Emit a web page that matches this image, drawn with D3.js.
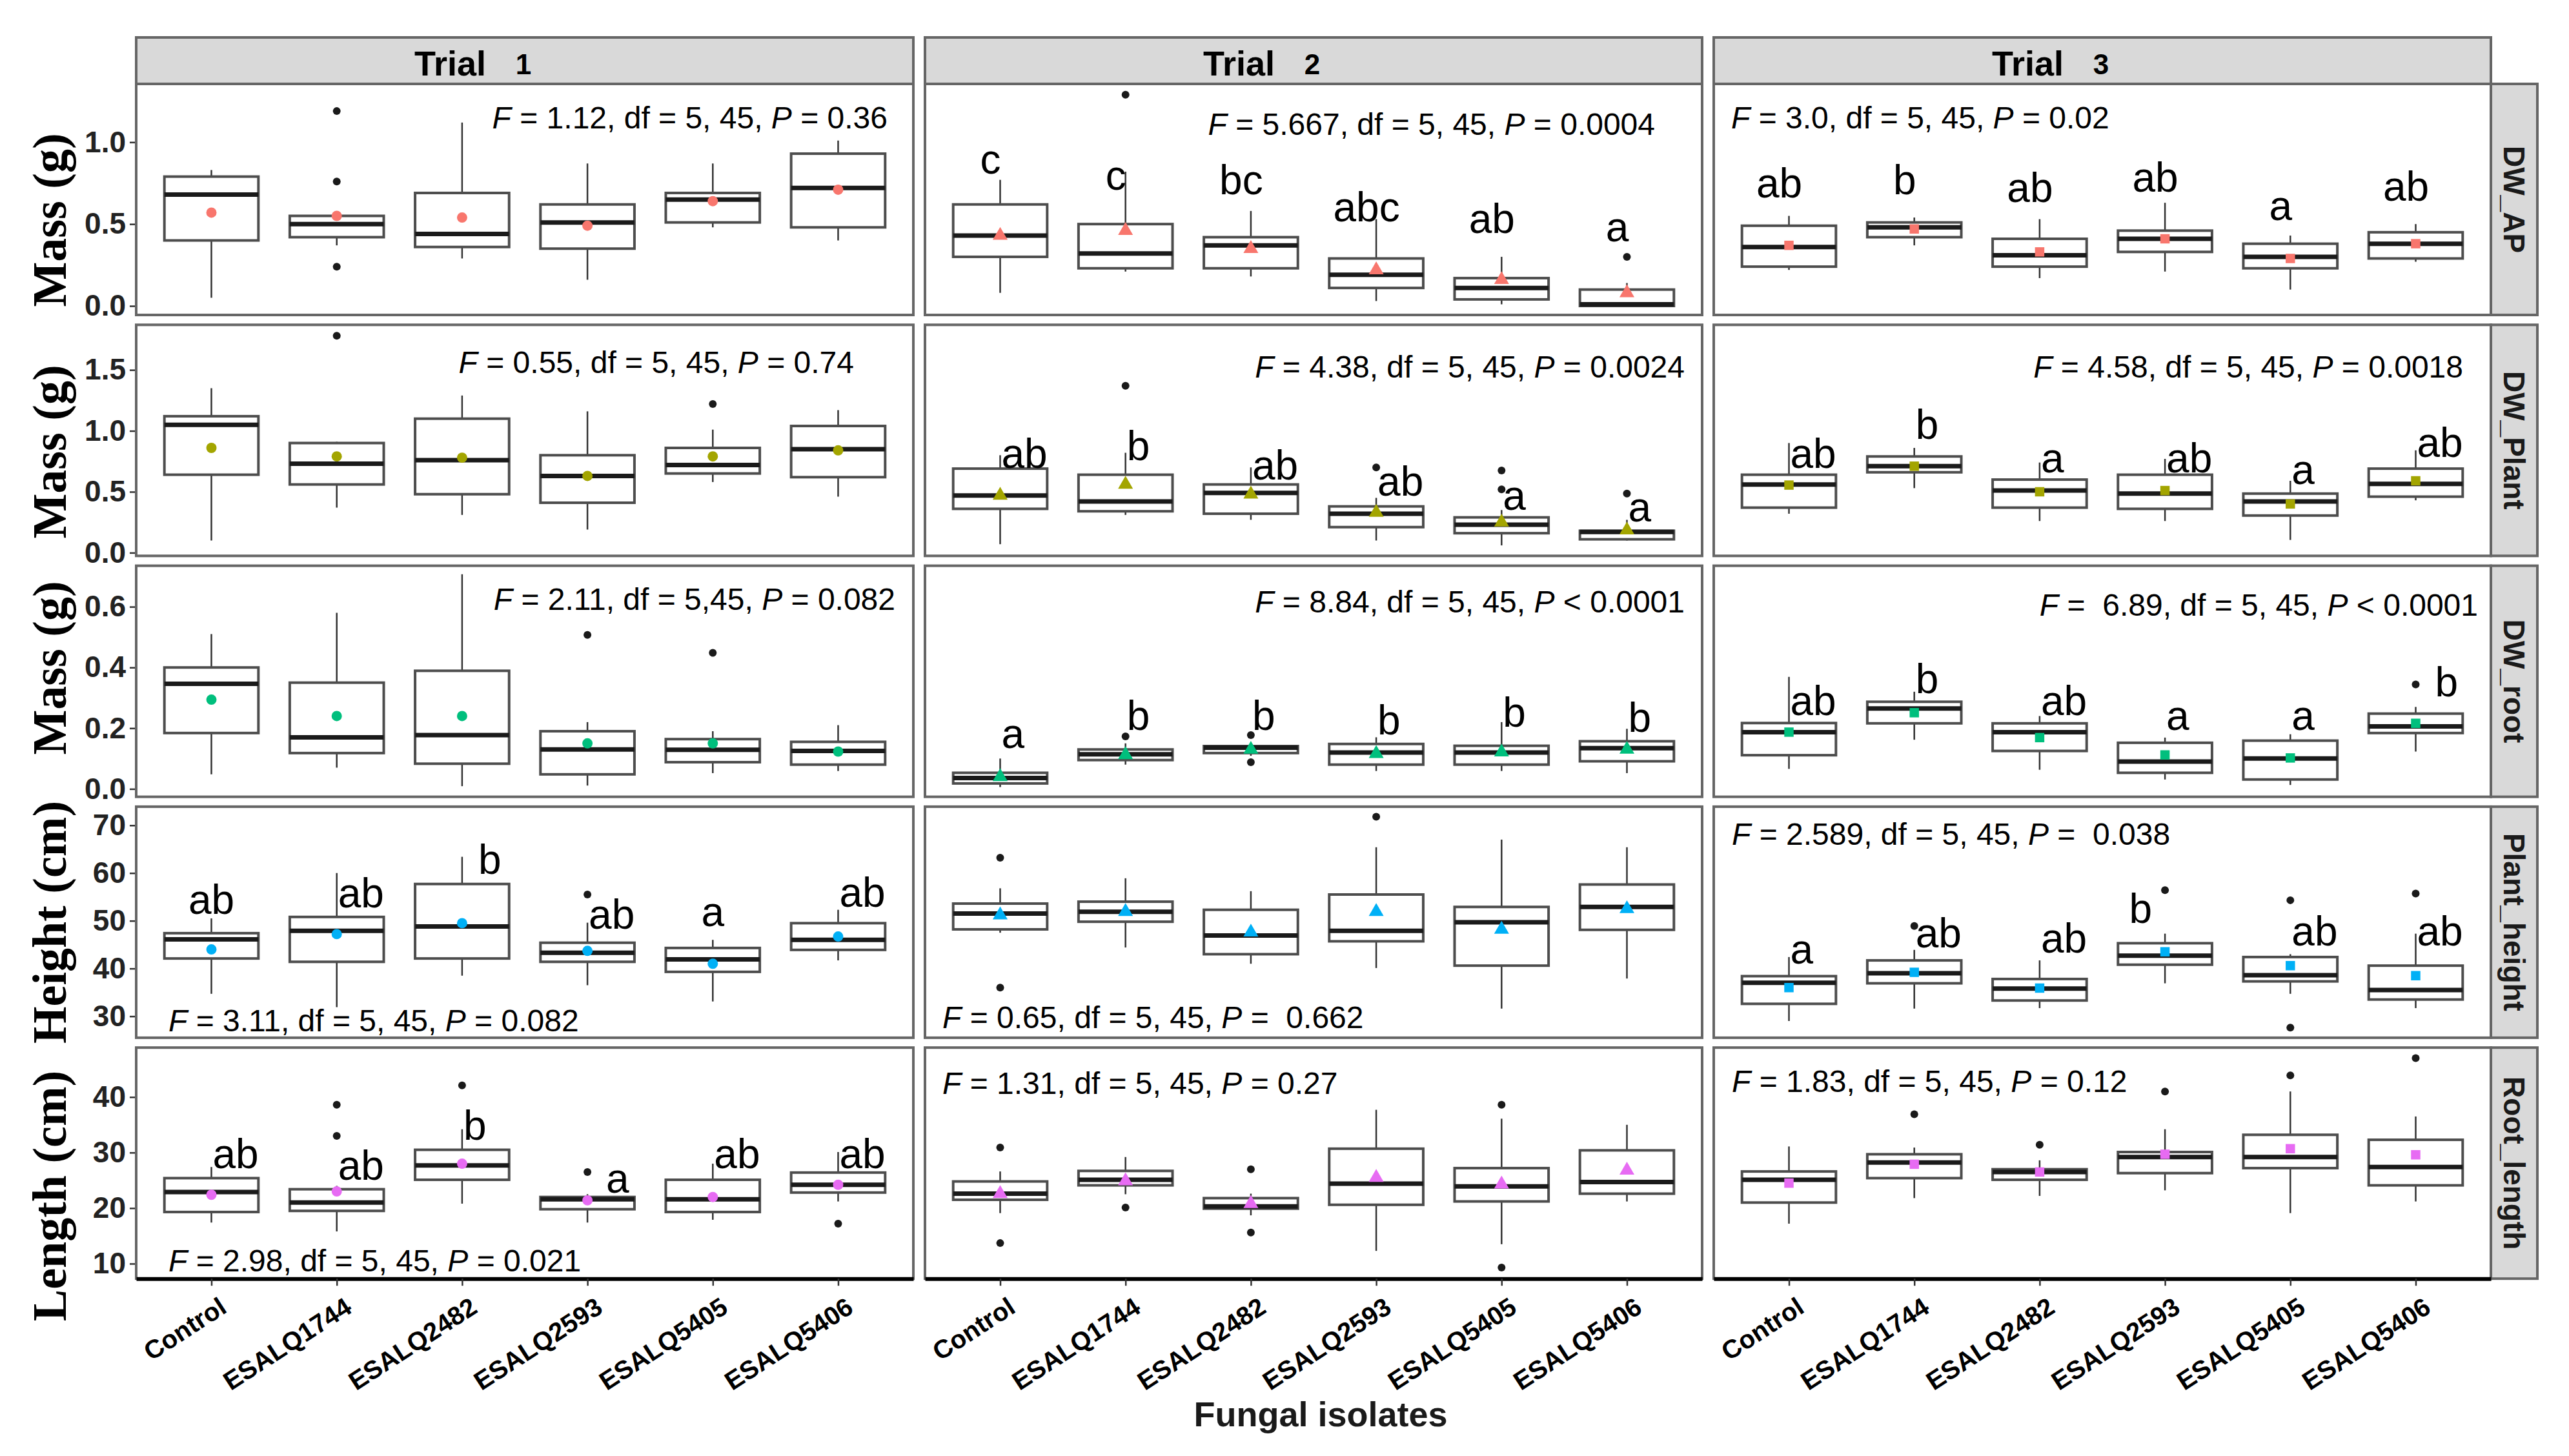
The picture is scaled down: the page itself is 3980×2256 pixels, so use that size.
<!DOCTYPE html>
<html>
<head>
<meta charset="utf-8">
<script src="https://cdn.jsdelivr.net/npm/d3@7"></script>
<style>
  body { margin: 0; background: #fff; }
  text { white-space: pre; }
</style>
</head>
<body>
<div id="chart"></div>
<script>
// Categories, facets and labels
const categories = ['Control', 'ESALQ1744', 'ESALQ2482', 'ESALQ2593', 'ESALQ5405', 'ESALQ5406'];
const trialNumbers = ['1', '2', '3'];
const variables = ['DW_AP', 'DW_Plant', 'DW_root', 'Plant_height', 'Root_length'];
const yTitles = ['Mass (g)', 'Mass (g)', 'Mass (g)', 'Height (cm)', 'Length (cm)'];
const yTickValues = [[0, 0.5, 1.0], [0, 0.5, 1.0, 1.5], [0, 0.2, 0.4, 0.6], [30, 40, 50, 60, 70], [10, 20, 30, 40]];
const yDomains = [[-0.055, 1.356], [-0.026, 1.87], [-0.026, 0.735], [25.5, 73.9], [7.3, 48.9]];
const meanColors = ['#F8766D', '#A3A500', '#00BF7D', '#00B0F6', '#E76BF3'];

// Box stats per trial: [lower whisker, Q1, median, Q3, upper whisker]
const dwApBoxes = [
    [[0.05, 0.40, 0.68, 0.79, 0.83], [0.37, 0.42, 0.50, 0.55, 0.55], [0.29, 0.36, 0.44, 0.69, 1.12], [0.16, 0.35, 0.51, 0.62, 0.87], [0.48, 0.51, 0.65, 0.69, 0.87], [0.40, 0.48, 0.72, 0.93, 1.01]],
    [[0.08, 0.30, 0.43, 0.62, 0.77], [0.21, 0.23, 0.32, 0.50, 0.82], [0.18, 0.23, 0.37, 0.42, 0.58], [0.03, 0.11, 0.19, 0.29, 0.53], [0.01, 0.04, 0.11, 0.17, 0.30], [0.0, 0.0, 0.01, 0.10, 0.14]],
    [[0.22, 0.24, 0.36, 0.49, 0.55], [0.37, 0.42, 0.48, 0.51, 0.54], [0.17, 0.24, 0.31, 0.41, 0.53], [0.21, 0.33, 0.41, 0.46, 0.63], [0.10, 0.23, 0.30, 0.38, 0.43], [0.27, 0.29, 0.38, 0.45, 0.50]]
];
const dwApMeans = [[0.57, 0.55, 0.54, 0.49, 0.64, 0.71], [0.43, 0.46, 0.35, 0.22, 0.16, 0.08], [0.37, 0.47, 0.33, 0.41, 0.29, 0.38]];
const dwApOutliers = [[[], [1.19, 0.76, 0.24], [], [], [], []], [[], [1.29], [], [], [], [0.30]], [[], [], [], [], [], []]];
const dwApLetters = [[], ['c', 'c', 'bc', 'abc', 'ab', 'a'], ['ab', 'b', 'ab', 'ab', 'a', 'ab']];
const dwApLetterY = [[], [0.81, 0.71, 0.684, 0.518, 0.447, 0.395], [0.664, 0.684, 0.636, 0.696, 0.526, 0.644]];

const dwPlantBoxes = [
    [[0.10, 0.64, 1.05, 1.12, 1.35], [0.37, 0.56, 0.73, 0.90, 0.91], [0.31, 0.48, 0.76, 1.10, 1.29], [0.19, 0.41, 0.63, 0.80, 1.16], [0.58, 0.65, 0.72, 0.86, 1.01], [0.46, 0.62, 0.85, 1.04, 1.17]],
    [[0.07, 0.36, 0.47, 0.69, 0.80], [0.31, 0.34, 0.42, 0.64, 0.82], [0.27, 0.32, 0.49, 0.56, 0.70], [0.10, 0.21, 0.32, 0.38, 0.45], [0.06, 0.16, 0.23, 0.29, 0.35], [0.10, 0.11, 0.17, 0.18, 0.27]],
    [[0.32, 0.37, 0.56, 0.64, 0.90], [0.53, 0.66, 0.71, 0.79, 0.86], [0.26, 0.37, 0.51, 0.60, 0.74], [0.26, 0.36, 0.485, 0.64, 0.77], [0.105, 0.305, 0.42, 0.485, 0.59], [0.43, 0.46, 0.565, 0.69, 0.84]]
];
const dwPlantMeans = [[0.86, 0.79, 0.78, 0.63, 0.79, 0.84], [0.47, 0.56, 0.48, 0.33, 0.25, 0.185], [0.555, 0.71, 0.50, 0.51, 0.40, 0.59]];
const dwPlantOutliers = [[[], [1.78], [], [], [1.22], []], [[], [1.37], [], [0.70], [0.675, 0.52], [0.485]], [[], [], [], [], [], []]];
const dwPlantLetters = [[], ['ab', 'b', 'ab', 'ab', 'a', 'a'], ['ab', 'b', 'a', 'ab', 'a', 'ab']];
const dwPlantLetterY = [[], [0.697, 0.758, 0.60, 0.467, 0.353, 0.256], [0.697, 0.935, 0.661, 0.661, 0.564, 0.785]];

const dwRootBoxes = [
    [[0.048, 0.184, 0.346, 0.40, 0.51], [0.07, 0.118, 0.17, 0.35, 0.58], [0.009, 0.083, 0.177, 0.389, 0.707], [0.011, 0.048, 0.13, 0.19, 0.22], [0.052, 0.088, 0.129, 0.164, 0.19], [0.059, 0.08, 0.125, 0.155, 0.21]],
    [[0.006, 0.018, 0.036, 0.053, 0.10], [0.08, 0.095, 0.114, 0.13, 0.15], [0.109, 0.118, 0.136, 0.141, 0.148], [0.059, 0.08, 0.12, 0.148, 0.17], [0.059, 0.08, 0.12, 0.142, 0.22], [0.052, 0.091, 0.134, 0.157, 0.198]],
    [[0.066, 0.111, 0.187, 0.217, 0.369], [0.162, 0.216, 0.265, 0.287, 0.32], [0.063, 0.125, 0.187, 0.216, 0.24], [0.031, 0.053, 0.09, 0.152, 0.169], [0.013, 0.031, 0.10, 0.159, 0.18], [0.123, 0.184, 0.206, 0.248, 0.27]]
];
const dwRootMeans = [[0.294, 0.24, 0.24, 0.15, 0.15, 0.123], [0.04, 0.112, 0.13, 0.116, 0.121, 0.13], [0.187, 0.251, 0.169, 0.112, 0.102, 0.216]];
const dwRootOutliers = [[[], [], [], [0.507], [0.448], []], [[], [0.173], [0.177, 0.088], [], [], []], [[], [], [], [], [], [0.344]]];
const dwRootLetters = [[], ['a', 'b', 'b', 'b', 'b', 'b'], ['ab', 'b', 'ab', 'a', 'a', 'b']];
const dwRootLetterY = [[], [0.134, 0.194, 0.194, 0.18, 0.205, 0.187], [0.244, 0.315, 0.244, 0.194, 0.194, 0.305]];

const heightBoxes = [
    [[34.7, 42.1, 46.1, 47.4, 50.5], [31.9, 41.4, 47.9, 50.8, 60.0], [38.5, 42.1, 48.8, 57.7, 63.4], [36.5, 41.4, 43.3, 45.4, 49.6], [33.1, 39.3, 41.9, 44.3, 46.0], [41.7, 43.9, 46.0, 49.5, 52.3]],
    [[47.5, 48.2, 51.5, 53.6, 56.8], [44.4, 49.8, 51.9, 54.0, 58.9], [41.0, 43.0, 46.9, 52.3, 56.2], [40.1, 45.7, 47.9, 55.5, 65.4], [31.6, 40.6, 49.7, 52.9, 67.0], [37.9, 48.1, 52.9, 57.6, 65.4]],
    [[29.0, 32.6, 37.0, 38.4, 42.4], [31.6, 36.9, 39.0, 41.7, 43.9], [31.7, 33.3, 35.8, 37.8, 41.7], [36.9, 40.8, 42.7, 45.3, 47.3], [34.7, 37.3, 38.6, 42.4, 43.0], [31.7, 33.5, 35.5, 40.6, 47.3]]
];
const heightMeans = [[44.0, 47.2, 49.5, 43.7, 41.0, 46.7], [51.2, 51.9, 47.6, 51.9, 48.2, 52.5], [36.0, 39.2, 35.9, 43.5, 40.6, 38.5]];
const heightOutliers = [[[], [], [], [55.5], [], []], [[63.2, 36.0], [], [], [71.8], [], []], [[], [48.9], [], [56.4], [54.3, 27.6], [55.7]]];
const heightLetters = [['ab', 'ab', 'b', 'ab', 'a', 'ab'], [], ['a', 'ab', 'ab', 'b', 'ab', 'ab']];
const heightLetterY = [[51.4, 52.8, 59.8, 48.4, 48.9, 52.9], [], [41.0, 44.4, 43.3, 49.6, 44.8, 44.8]];

const rootLenBoxes = [
    [[17.4, 19.3, 22.9, 25.4, 27.4], [15.8, 19.5, 21.0, 23.4, 24.0], [20.8, 25.1, 27.7, 30.5, 34.2], [17.4, 19.8, 21.6, 22.0, 22.5], [17.9, 19.3, 21.6, 25.1, 28.0], [21.2, 22.8, 24.2, 26.4, 30.1]],
    [[19.1, 21.5, 22.6, 24.8, 26.6], [22.5, 24.1, 25.1, 26.7, 29.2], [18.7, 19.9, 20.3, 21.8, 22.6], [12.3, 20.6, 24.4, 30.7, 37.7], [13.5, 21.2, 23.9, 27.2, 36.1], [21.2, 22.6, 24.7, 30.4, 35.0]],
    [[17.2, 21.0, 25.1, 26.6, 31.1], [21.8, 25.4, 28.2, 29.7, 30.9], [22.2, 25.1, 26.5, 27.0, 28.6], [23.2, 26.3, 29.2, 30.1, 34.2], [19.1, 27.2, 29.2, 33.2, 41.0], [21.2, 24.1, 27.4, 32.3, 36.5]]
];
const rootLenMeans = [[22.4, 23.0, 28.0, 21.4, 22.0, 24.2], [22.6, 24.9, 20.8, 25.5, 24.3, 26.8], [24.5, 27.9, 26.5, 29.7, 30.7, 29.6]];
const rootLenOutliers = [[[], [38.6, 33.0], [42.1], [26.5], [], [17.2]], [[30.9, 13.7], [20.1], [27.0, 15.6], [], [38.6, 9.3], []], [[], [36.9], [31.4], [41.0], [43.9], [47.0]]];
const rootLenLetters = [['ab', 'ab', 'b', 'a', 'ab', 'ab'], [], []];
const rootLenLetterY = [[27.2, 25.1, 32.3, 22.8, 27.2, 27.2], [], []];

// ANOVA annotations, one per row and trial
const statsText = [
    ['F = 1.12, df = 5, 45, P = 0.36', 'F = 5.667, df = 5, 45, P = 0.0004', 'F = 3.0, df = 5, 45, P = 0.02'],
    ['F = 0.55, df = 5, 45, P = 0.74', 'F = 4.38, df = 5, 45, P = 0.0024', 'F = 4.58, df = 5, 45, P = 0.0018'],
    ['F = 2.11, df = 5,45, P = 0.082', 'F = 8.84, df = 5, 45, P < 0.0001', 'F =  6.89, df = 5, 45, P < 0.0001'],
    ['F = 3.11, df = 5, 45, P = 0.082', 'F = 0.65, df = 5, 45, P =  0.662', 'F = 2.589, df = 5, 45, P =  0.038'],
    ['F = 2.98, df = 5, 45, P = 0.021', 'F = 1.31, df = 5, 45, P = 0.27', 'F = 1.83, df = 5, 45, P = 0.12']
];

const allBoxes = [dwApBoxes, dwPlantBoxes, dwRootBoxes, heightBoxes, rootLenBoxes];
const allMeans = [dwApMeans, dwPlantMeans, dwRootMeans, heightMeans, rootLenMeans];
const allOutliers = [dwApOutliers, dwPlantOutliers, dwRootOutliers, heightOutliers, rootLenOutliers];
const allLetters = [dwApLetters, dwPlantLetters, dwRootLetters, heightLetters, rootLenLetters];
const allLetterY = [dwApLetterY, dwPlantLetterY, dwRootLetterY, heightLetterY, rootLenLetterY];

// Layout
const width = 3980, height = 2256;
const panelW = 1204, panelH = 358;
const colGap = 18, rowPitch = 373.3;
const left0 = 211, top0 = 130;
const stripH = 72;
const sans = '"Liberation Sans", Arial, sans-serif';
const serif = '"Liberation Serif", "Times New Roman", serif';

// where each stat line sits: [anchor, offset from left/right edge, centre y in panel]
const statPlacement = [
    [['end', 40, 52], ['end', 73, 62], ['start', 27, 52]],
    [['end', 92, 58], ['end', 27, 65], ['end', 43, 65]],
    [['end', 28, 51], ['end', 27, 55], ['end', 20, 60]],
    [['start', 50, 331], ['start', 27, 326], ['start', 28, 42]],
    [['start', 50, 330], ['start', 27, 55], ['start', 28, 52]]
];
const yTitleCenters = [341, 700, 1035, 1429, 1853];

// hand-placed letters that are not left-aligned on the box centre
const letterExceptions = {
    '3|0|0': ['middle', 0], '3|0|4': ['middle', 0], '3|0|2': ['start', 25],
    '2|2|5': ['start', 30], '3|2|3': ['end', -20], '4|0|3': ['start', 29]
};
function letterPlacement(r, t, i) {
    if (r === 0) return ['middle', -15];
    return letterExceptions[`${r}|${t}|${i}`] || ['start', 2];
}

const meanShapes = [d3.symbolCircle, d3.symbolTriangle, d3.symbolSquare];
const meanSizes = [200, 230, 210];

const svg = d3.select('#chart').append('svg')
    .attr('width', width)
    .attr('height', height)
    .style('background', '#fff');

const x = d3.scalePoint()
    .domain(categories)
    .range([0, panelW])
    .padding(0.6);
const boxW = x.step() * 0.75;

function colLeft(c) { return left0 + c * (panelW + colGap); }
function rowTop(r) { return top0 + r * rowPitch; }

// Top strips
trialNumbers.forEach((num, c) => {
    const s = svg.append('g').attr('transform', `translate(${colLeft(c)}, ${top0 - stripH})`);
    s.append('rect')
        .attr('width', panelW).attr('height', stripH)
        .attr('fill', '#d9d9d9').attr('stroke', '#666').attr('stroke-width', 4);
    s.append('text')
        .attr('x', panelW / 2 - 60).attr('y', 59)
        .attr('text-anchor', 'end')
        .attr('font-family', sans).attr('font-weight', 'bold').attr('font-size', 54)
        .text('Trial');
    s.append('text')
        .attr('x', panelW / 2 - 2).attr('y', 57)
        .attr('text-anchor', 'middle')
        .attr('font-family', sans).attr('font-weight', 'bold').attr('font-size', 44)
        .text(num);
});

variables.forEach((variable, r) => {
    const y = d3.scaleLinear().domain(yDomains[r]).range([panelH, 0]);
    const isLength = r >= 3;

    // Right strip
    const rs = svg.append('g').attr('transform', `translate(${colLeft(2) + panelW}, ${rowTop(r)})`);
    rs.append('rect')
        .attr('width', stripH).attr('height', panelH)
        .attr('fill', '#d9d9d9').attr('stroke', '#666').attr('stroke-width', 4);
    rs.append('text')
        .attr('transform', `translate(${stripH / 2}, ${panelH / 2}) rotate(90)`)
        .attr('text-anchor', 'middle').attr('dominant-baseline', 'central')
        .attr('font-family', sans).attr('font-weight', 'bold').attr('font-size', 46)
        .attr('fill', '#1a1a1a')
        .text(variable);

    // Y title
    svg.append('text')
        .attr('transform', `translate(102, ${yTitleCenters[r]}) rotate(-90)`)
        .attr('text-anchor', 'middle')
        .attr('font-family', serif).attr('font-weight', 'bold').attr('font-size', 74)
        .text(yTitles[r]);

    trialNumbers.forEach((num, t) => {
        const g = svg.append('g').attr('transform', `translate(${colLeft(t)}, ${rowTop(r)})`);

        g.append('rect')
            .attr('width', panelW).attr('height', panelH)
            .attr('fill', '#fff');

        // Y axis only on the first column
        if (t === 0) {
            const yAxis = d3.axisLeft(y)
                .tickValues(yTickValues[r])
                .tickSize(10)
                .tickPadding(6)
                .tickFormat(isLength ? d3.format('d') : d3.format('.1f'));
            g.append('g').call(yAxis)
                .call(a => a.select('.domain').remove())
                .call(a => a.selectAll('.tick line').attr('stroke', '#333').attr('stroke-width', 2.5))
                .call(a => a.selectAll('.tick text')
                    .attr('font-family', sans).attr('font-weight', 'bold')
                    .attr('font-size', 46).attr('fill', '#222'));
        }

        const boxes = allBoxes[r][t];
        const cell = g.append('g').selectAll('g')
            .data(categories.map((cat, i) => ({ cat, i, b: boxes[i] })))
            .join('g')
            .attr('transform', d => `translate(${x(d.cat)}, 0)`);

        // whiskers
        cell.append('line')
            .attr('y1', d => y(d.b[4])).attr('y2', d => y(d.b[3]))
            .attr('stroke', '#333').attr('stroke-width', 2.5);
        cell.append('line')
            .attr('y1', d => y(d.b[1])).attr('y2', d => y(d.b[0]))
            .attr('stroke', '#333').attr('stroke-width', 2.5);
        // box
        cell.append('rect')
            .attr('x', -boxW / 2).attr('width', boxW)
            .attr('y', d => y(d.b[3]))
            .attr('height', d => Math.max(1, y(d.b[1]) - y(d.b[3])))
            .attr('fill', '#fff').attr('stroke', '#4d4d4d').attr('stroke-width', 4);
        // median
        cell.append('line')
            .attr('x1', -boxW / 2).attr('x2', boxW / 2)
            .attr('y1', d => y(d.b[2])).attr('y2', d => y(d.b[2]))
            .attr('stroke', '#1a1a1a').attr('stroke-width', 7);
        // outliers
        cell.selectAll('circle.out')
            .data(d => allOutliers[r][t][d.i])
            .join('circle')
            .attr('class', 'out')
            .attr('cy', v => y(v)).attr('r', 6)
            .attr('fill', '#1a1a1a');
        // mean marker
        cell.append('path')
            .attr('d', d3.symbol(meanShapes[t], meanSizes[t]))
            .attr('transform', d => `translate(0, ${y(allMeans[r][t][d.i])})`)
            .attr('fill', meanColors[r]);

        // group letters
        const letters = allLetters[r][t];
        letters.forEach((txt, i) => {
            const [anchor, dx] = letterPlacement(r, t, i);
            g.append('text')
                .attr('x', x(categories[i]) + dx)
                .attr('y', y(allLetterY[r][t][i]))
                .attr('text-anchor', anchor)
                .attr('font-family', sans).attr('font-size', 64)
                .attr('fill', '#000')
                .text(txt);
        });

        // ANOVA line, italic F and P
        const [anchor, off, cy] = statPlacement[r][t];
        const parts = statsText[r][t].match(/^F(.*?)P(.*)$/);
        const st = g.append('text')
            .attr('x', anchor === 'end' ? panelW - off : off)
            .attr('y', cy + 17)
            .attr('text-anchor', anchor)
            .attr('font-family', sans).attr('font-size', 48)
            .attr('fill', '#000');
        st.append('tspan').attr('font-style', 'italic').text('F');
        st.append('tspan').text(parts[1]);
        st.append('tspan').attr('font-style', 'italic').text('P');
        st.append('tspan').text(parts[2]);

        // panel border
        g.append('rect')
            .attr('width', panelW).attr('height', panelH)
            .attr('fill', 'none').attr('stroke', '#666').attr('stroke-width', 4);

        // bottom axis on last row
        if (r === variables.length - 1) {
            const xAxis = d3.axisBottom(x).tickSize(11).tickSizeOuter(0);
            g.append('g')
                .attr('transform', `translate(0, ${panelH})`)
                .call(xAxis)
                .call(a => a.select('.domain').attr('stroke', '#000').attr('stroke-width', 6))
                .call(a => a.selectAll('.tick line').attr('stroke', '#333').attr('stroke-width', 2.5))
                .call(a => a.selectAll('.tick text')
                    .attr('x', 0).attr('y', 0).attr('dy', '0.71em')
                    .attr('transform', 'translate(10, 27) rotate(-33)')
                    .attr('text-anchor', 'end')
                    .attr('font-family', sans).attr('font-weight', 'bold')
                    .attr('font-size', 40).attr('fill', '#000'));
        }
    });
});

// X title
svg.append('text')
    .attr('x', 2046).attr('y', 2210)
    .attr('text-anchor', 'middle')
    .attr('font-family', sans).attr('font-weight', 'bold').attr('font-size', 54)
    .attr('fill', '#1a1a1a')
    .text('Fungal isolates');
</script>
</body>
</html>
